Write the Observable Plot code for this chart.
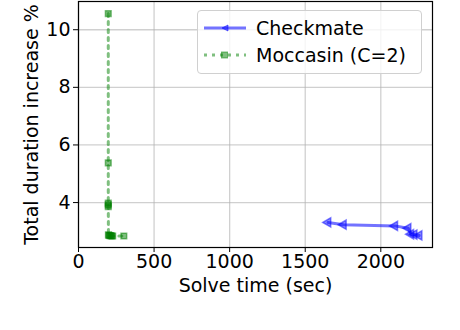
<!DOCTYPE html>
<html>
<head>
<meta charset="utf-8">
<script src="https://cdn.jsdelivr.net/npm/d3@7"></script>
<script src="https://cdn.jsdelivr.net/npm/@observablehq/plot@0.6"></script>
<style>
  html, body { margin: 0; padding: 0; background: #fff; }
  #wrap { position: relative; width: 460px; height: 330px; font-family: "DejaVu Sans", sans-serif; }
  #legend { position: absolute; left: 197px; top: 10px; width: 223px; height: 62px;
    background: rgba(255,255,255,0.8); border: 1px solid #d0d0d0; border-radius: 4px;
    font-size: 19px; color: #000; }
  .row { position: absolute; left: 6px; height: 24px; display: flex; align-items: center; }
  .row span { margin-left: 10px; }
</style>
</head>
<body>
<div id="wrap">
  <div id="chart"></div>
  <div id="legend">
    <div class="row" style="top:5px">
      <svg width="42" height="20"><line x1="0" y1="10" x2="42" y2="10" stroke="blue" stroke-opacity="0.55" stroke-width="3"/><path d="M18,10 L24,7 L24,13 Z" fill="blue" fill-opacity="0.5" stroke="blue" stroke-opacity="0.5"/></svg>
      <span>Checkmate</span>
    </div>
    <div class="row" style="top:32px">
      <svg width="42" height="20"><line x1="0" y1="10" x2="42" y2="10" stroke="green" stroke-opacity="0.5" stroke-width="3" stroke-dasharray="3,5"/><rect x="17.5" y="7" width="6" height="6" fill="green" fill-opacity="0.5" stroke="green" stroke-opacity="0.5"/></svg>
      <span>Moccasin (C=2)</span>
    </div>
  </div>
</div>
<script>
const checkmateTime = [1651, 1753, 2093, 2181, 2199, 2221, 2254];
const checkmateIncrease = [3.31, 3.23, 3.19, 3.11, 2.90, 2.89, 2.86];
const moccasinTime = [197, 197, 197, 197, 197, 198, 202, 208, 214, 220, 226, 300];
const moccasinIncrease = [10.56, 5.38, 3.98, 3.92, 3.86, 2.88, 2.86, 2.85, 2.85, 2.84, 2.84, 2.84];
const xTicks = [0, 500, 1000, 1500, 2000];
const yTicks = [4, 6, 8, 10];

const checkmate = checkmateTime.map((t, i) => ({t, v: checkmateIncrease[i]}));
const moccasin = moccasinTime.map((t, i) => ({t, v: moccasinIncrease[i]}));

const chart = Plot.plot({
  width: 460,
  height: 330,
  marginLeft: 78,
  marginRight: 28,
  marginTop: 1,
  marginBottom: 83,
  style: {fontFamily: "DejaVu Sans, sans-serif", fontSize: "19px", color: "#000", background: "#fff"},
  x: {domain: [0, 2342]},
  y: {domain: [2.44, 10.98]},
  marks: [
    Plot.gridX(xTicks, {stroke: "#b0b0b0", strokeOpacity: 0.6, strokeWidth: 1.3}),
    Plot.gridY(yTicks, {stroke: "#b0b0b0", strokeOpacity: 0.6, strokeWidth: 1.3}),
    Plot.axisX(xTicks, {tickSize: 5, tickPadding: 2, tickFormat: d => String(d), label: "Solve time (sec)", labelAnchor: "center", labelArrow: "none", labelOffset: 44, fontSize: 19}),
    Plot.axisY(yTicks, {tickSize: 5, tickPadding: 3, tickFormat: d => String(d), label: "Total duration increase %", labelAnchor: "center", labelArrow: "none", labelOffset: 54, fontSize: 19}),
    Plot.line(moccasin, {x: "t", y: "v", stroke: "green", strokeOpacity: 0.5, strokeWidth: 3, strokeDasharray: "3,5"}),
    Plot.dot(moccasin, {x: "t", y: "v", symbol: "square", r: 3.2, fill: "green", fillOpacity: 0.5, stroke: "green", strokeOpacity: 0.5}),
    Plot.line(checkmate, {x: "t", y: "v", stroke: "blue", strokeOpacity: 0.55, strokeWidth: 3}),
    Plot.dot(checkmate, {x: "t", y: "v", symbol: "triangle", rotate: -90, r: 3.4, fill: "blue", fillOpacity: 0.45, stroke: "blue", strokeOpacity: 0.5}),
    Plot.frame({stroke: "#000", strokeWidth: 1.2})
  ]
});
document.getElementById("chart").appendChild(chart);
</script>
</body>
</html>
